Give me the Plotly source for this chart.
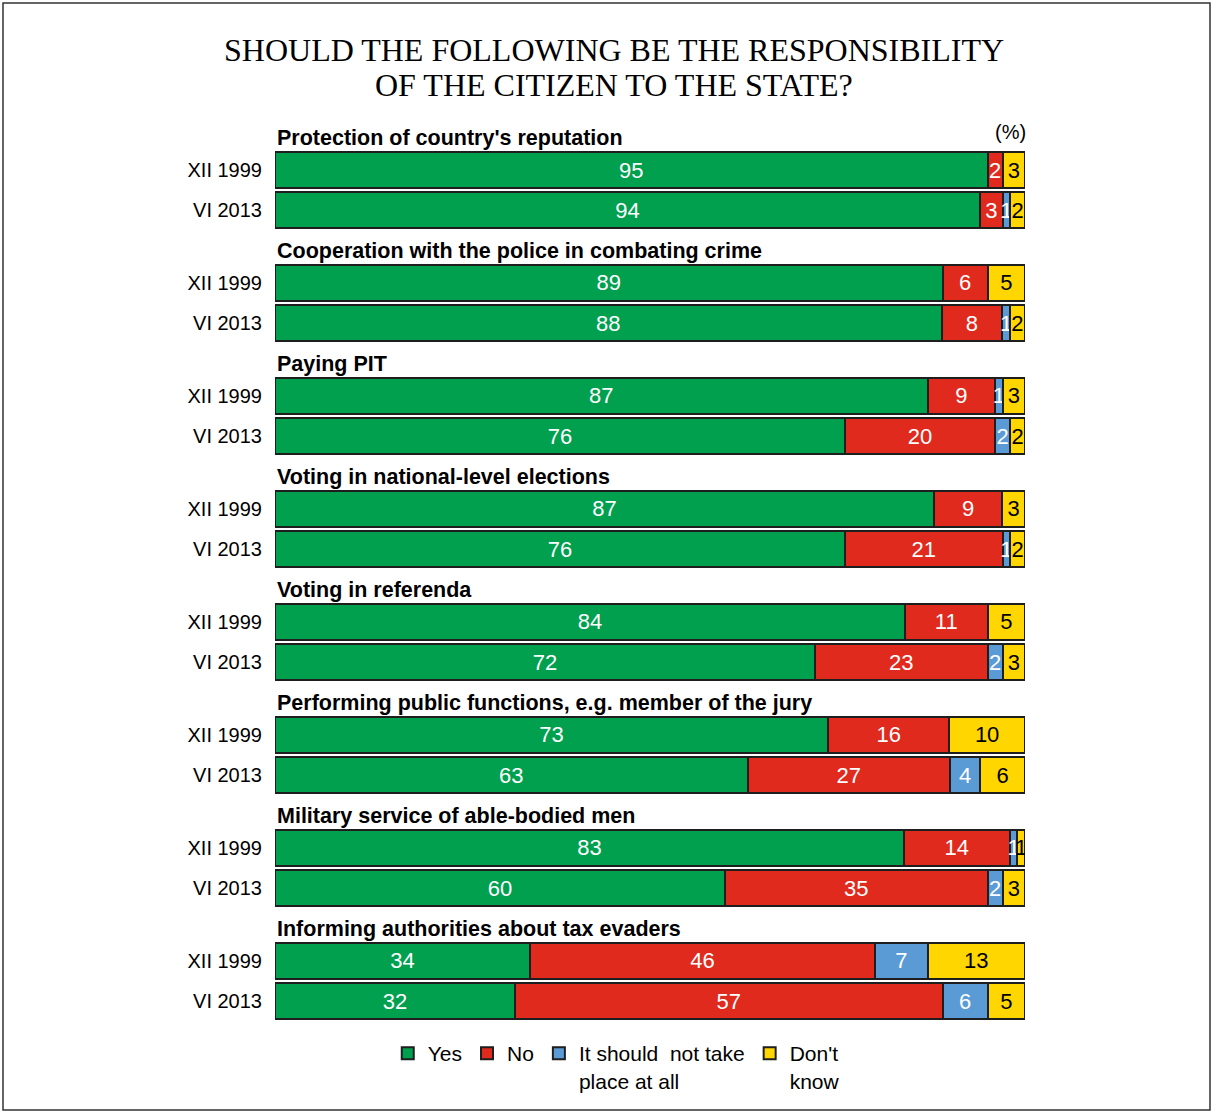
import plotly.graph_objects as go

categories = [
    "Protection of country's reputation",
    "Cooperation with the police in combating crime",
    "Paying PIT",
    "Voting in national-level elections",
    "Voting in referenda",
    "Performing public functions, e.g. member of the jury",
    "Military service of able-bodied men",
    "Informing authorities about tax evaders",
]
periods = ["XII 1999", "VI 2013"]

yes_1999 = [95, 89, 87, 87, 84, 73, 83, 34]
yes_2013 = [94, 88, 76, 76, 72, 63, 60, 32]
no_1999 = [2, 6, 9, 9, 11, 16, 14, 46]
no_2013 = [3, 8, 20, 21, 23, 27, 35, 57]
notake_1999 = [0, 0, 1, 0, 0, 0, 1, 7]
notake_2013 = [1, 1, 2, 1, 2, 4, 2, 6]
dk_1999 = [3, 5, 3, 3, 5, 10, 1, 13]
dk_2013 = [2, 2, 2, 2, 3, 6, 3, 5]

series = [
    ("Yes", yes_1999, yes_2013, "#00A04F", "white"),
    ("No", no_1999, no_2013, "#E02A1E", "white"),
    ("It should  not take<br>place at all", notake_1999, notake_2013, "#5B9BD5", "white"),
    ("Don't<br>know", dk_1999, dk_2013, "#FFD600", "black"),
]

FONT = "Liberation Sans, Arial"
SERIF = "Liberation Serif, Times New Roman"

# row layout: per group a header slot, then the two period bars
GROUP = 3.0
PAIR_GAP = 1.07
ypos, ytext = [], []
for g in range(len(categories)):
    ypos += [GROUP * g + 1, GROUP * g + 1 + PAIR_GAP]
    ytext += periods

totals = []
for g in range(len(categories)):
    totals.append(sum(s[1][g] for s in series))
    totals.append(sum(s[2][g] for s in series))

fig = go.Figure()
for name, v99, v13, color, tcolor in series:
    vals = []
    for g in range(len(categories)):
        vals += [v99[g], v13[g]]
    xs = [v / t * 100 for v, t in zip(vals, totals)]
    texts = [str(v) if v > 0 else "" for v in vals]
    fig.add_trace(go.Bar(
        y=ypos, x=xs, orientation="h", name=name, width=0.95,
        marker=dict(color=color, line=dict(color="#1e1e1e", width=2)),
        text=texts, textposition="inside", insidetextanchor="middle",
        constraintext="none", textangle=0,
        textfont=dict(color=tcolor, size=22, family=FONT),
        hoverinfo="skip",
    ))

for g, cat in enumerate(categories):
    fig.add_annotation(
        x=0, y=GROUP * g + 0.5, xref="x", yref="y", text="<b>" + cat + "</b>",
        showarrow=False, xanchor="left", yanchor="bottom", yshift=-1,
        font=dict(size=21.5, color="black", family=FONT),
    )

fig.add_annotation(
    x=1.004, y=0.980, xref="paper", yref="paper", text="(%)", showarrow=False,
    xanchor="right", yanchor="middle",
    font=dict(size=20, color="black", family=FONT),
)

title_lines = ["SHOULD THE FOLLOWING BE THE RESPONSIBILITY", "OF THE CITIZEN TO THE STATE?"]
for i, line in enumerate(title_lines):
    fig.add_annotation(
        x=0.452, y=1.0706 - i * 0.0386, xref="paper", yref="paper", text=line,
        showarrow=False, xanchor="center", yanchor="middle",
        font=dict(size=32, color="black", family=SERIF),
    )

# outer frame
fig.add_shape(type="rect", xref="paper", yref="paper",
              x0=(3 - 275) / 750, x1=(1210 - 275) / 750,
              y0=(1020 - 1110) / 906, y1=(1020 - 3) / 906,
              line=dict(color="#333333", width=1.5))

fig.update_layout(
    width=1212, height=1113,
    margin=dict(l=275, r=187, t=114, b=93, autoexpand=False),
    paper_bgcolor="white", plot_bgcolor="white",
    barmode="stack",
    xaxis=dict(range=[0, 100], visible=False, fixedrange=True),
    yaxis=dict(
        range=[23.57, -0.487], tickvals=ypos, ticktext=ytext, showgrid=False,
        zeroline=False, ticks="", ticklabelstandoff=12,
        tickfont=dict(size=20, color="black", family=FONT),
    ),
    showlegend=True,
    legend=dict(
        orientation="h", x=0.455, xanchor="center", y=-0.0145, yanchor="top",
        valign="top", traceorder="normal",
        font=dict(size=21, color="black", family=FONT),
        itemwidth=30,
    ),
    font=dict(family=FONT),
)

fig.write_html("out.html")
